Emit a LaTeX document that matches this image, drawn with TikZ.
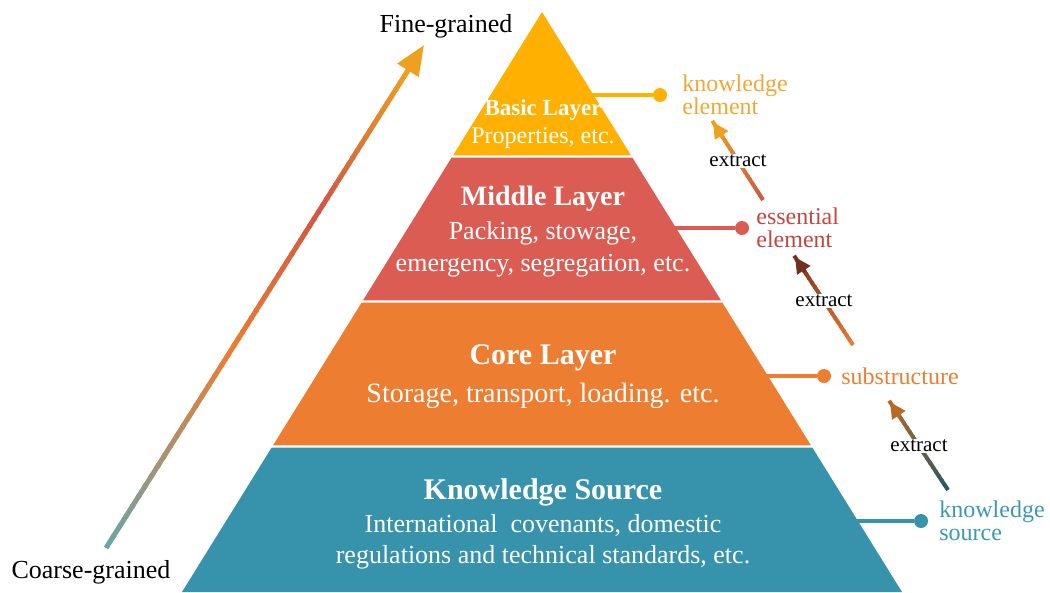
\documentclass[tikz,border=0pt]{standalone}
\usepackage{xcolor}
\usepackage{fontspec}
\setmainfont{Liberation Serif}
\usepackage{tikz}
\usetikzlibrary{arrows.meta,calc,positioning}
\definecolor{basicyellow}{RGB}{255,176,0}
\definecolor{middlered}{RGB}{219,92,83}
\definecolor{coreorange}{RGB}{237,125,49}
\definecolor{sourceteal}{RGB}{55,147,171}
\definecolor{elemtext}{RGB}{240,168,50}
\definecolor{essentext}{RGB}{192,72,62}
\definecolor{sourcetext}{RGB}{60,152,178}
\definecolor{greyteal}{RGB}{105,165,168}
\definecolor{darkbrown}{RGB}{115,48,32}
\definecolor{darkteal}{RGB}{38,88,98}
\definecolor{rustbrown}{RGB}{185,105,38}
\definecolor{amber}{RGB}{238,160,30}
\definecolor{brickred}{RGB}{205,88,70}

% shaded stroke: start, end, first colour, last colour, width
\newcommand{\gradline}[5]{%
  \foreach \k in {0,...,19}{
    \pgfmathsetmacro{\ta}{\k/20}
    \pgfmathsetmacro{\tb}{(\k+1.3)/20}
    \pgfmathtruncatemacro{\pc}{100-5*\k-2.5}
    \draw[line width=#5, color=#3!\pc!#4] ($(#1)!\ta!(#2)$) -- ($(#1)!\tb!(#2)$);
  }}

\begin{document}
\begin{tikzpicture}[x=1pt, y=-1pt,
    dot/.style={circle, inner sep=0pt, minimum size=14pt},
    link/.style={line width=4pt},
    sidelabel/.style={font=\fontsize{24}{22.5}\selectfont, align=left, inner sep=1pt},
    extract/.style={fill=white, inner sep=1pt, font=\fontsize{21}{23}\selectfont},
    exhead/.style={line width=4pt, -{Triangle[length=16pt,width=15pt]}}]
\useasboundingbox (0,0) rectangle (1050,592);

% Pyramid corners
\coordinate (apex) at (542,12);
\coordinate (bl) at (182,592);
\coordinate (br) at (902,592);

% Layers, top to bottom
\foreach \f/\g/\col in {0/0.247/basicyellow, 0.251/0.497/middlered, 0.501/0.747/coreorange, 0.751/1/sourceteal}
  \fill[\col] ($(apex)!\f!(bl)$) -- ($(apex)!\g!(bl)$) -- ($(apex)!\g!(br)$) -- ($(apex)!\f!(br)$) -- cycle;

% Layer texts
\node[white, font=\bfseries\fontsize{23}{25}\selectfont] (basic) at (543,110) {Basic Layer};
\node[white, font=\fontsize{24}{26}\selectfont] (basicsub) at (543,138) {Properties, etc.};

\node[white, font=\bfseries\fontsize{28}{30}\selectfont] (middle) at (543,199) {Middle Layer};
\node[white, font=\fontsize{26}{32}\selectfont, align=center] (middlesub) at (543,249) {Packing, stowage,\\emergency, segregation, etc.};

\node[white, font=\bfseries\fontsize{30}{32}\selectfont] (core) at (543,358) {Core Layer};
\node[white, font=\fontsize{28}{30}\selectfont] (coresub) at (543,396) {Storage, transport, loading. etc.};

\node[white, font=\bfseries\fontsize{30}{32}\selectfont] (source) at (543,492) {Knowledge Source};
\node[white, font=\fontsize{26}{31}\selectfont, align=center] (sourcesub) at (543,542) {International~ covenants, domestic\\regulations and technical standards, etc.};

% Side labels with their connectors
\coordinate (keedge) at (586,95);
\node[dot, fill=basicyellow] (kedot) at (660,95) {};
\node[sidelabel, elemtext, right=14pt of kedot] (kelab) {knowledge\\element};
\draw[link, basicyellow] (keedge) -- (kedot);

\coordinate (eeedge) at (668,228);
\node[dot, fill=middlered] (eedot) at (742,228) {};
\node[sidelabel, essentext, right=6pt of eedot] (eelab) {essential\\element};
\draw[link, middlered] (eeedge) -- (eedot);

\coordinate (subedge) at (760,376);
\node[dot, fill=coreorange] (subdot) at (824,376) {};
\node[sidelabel, coreorange, right=9pt of subdot] (sublab) {substructure};
\draw[link, coreorange] (subedge) -- (subdot);

\coordinate (ksedge) at (850,521);
\node[dot, fill=sourceteal] (ksdot) at (921,521) {};
\node[sidelabel, sourcetext, right=10pt of ksdot] (kslab) {knowledge\\source};
\draw[link, sourceteal] (ksedge) -- (ksdot);

% Extract arrows
\coordinate (ex1from) at (763,200);
\coordinate (ex1to) at (713,122);
\gradline{ex1from}{ex1to}{brickred}{amber}{4pt}
\draw[exhead, amber] ($(ex1to)!18pt!(ex1from)$) -- (ex1to);
\node[extract] (ex1) at ($(ex1from)!0.5!(ex1to)$) {extract};

\coordinate (ex2from) at (853,345);
\coordinate (ex2to) at (795,257);
\gradline{ex2from}{ex2to}{coreorange}{darkbrown}{4pt}
\draw[exhead, darkbrown] ($(ex2to)!18pt!(ex2from)$) -- (ex2to);
\node[extract] (ex2) at ($(ex2from)!0.5!(ex2to)$) {extract};

\coordinate (ex3from) at (948,490);
\coordinate (ex3to) at (890,402);
\gradline{ex3from}{ex3to}{darkteal}{rustbrown}{4pt}
\draw[exhead, rustbrown] ($(ex3to)!18pt!(ex3from)$) -- (ex3to);
\node[extract] (ex3) at ($(ex3from)!0.5!(ex3to)$) {extract};

% Granularity arrow
\node[font=\fontsize{26}{28}\selectfont] (fine) at (446,26) {Fine-grained};
\node[font=\fontsize{26}{28}\selectfont] (coarse) at (91,572) {Coarse-grained};
\coordinate (gtail) at (106,548);
\coordinate (gtip) at (424,45);
\coordinate (g1) at ($(gtail)!0.4!(gtip)$);
\coordinate (g2) at ($(gtail)!0.68!(gtip)$);
\coordinate (g3) at ($(gtail)!0.95!(gtip)$);
\gradline{gtail}{g1}{greyteal}{coreorange}{5pt}
\gradline{g1}{g2}{coreorange}{brickred}{5pt}
\gradline{g2}{g3}{brickred}{amber}{5pt}
\draw[line width=5pt, amber, -{Triangle[length=30pt,width=24pt]}] (g3) -- (gtip);
\end{tikzpicture}
\end{document}
